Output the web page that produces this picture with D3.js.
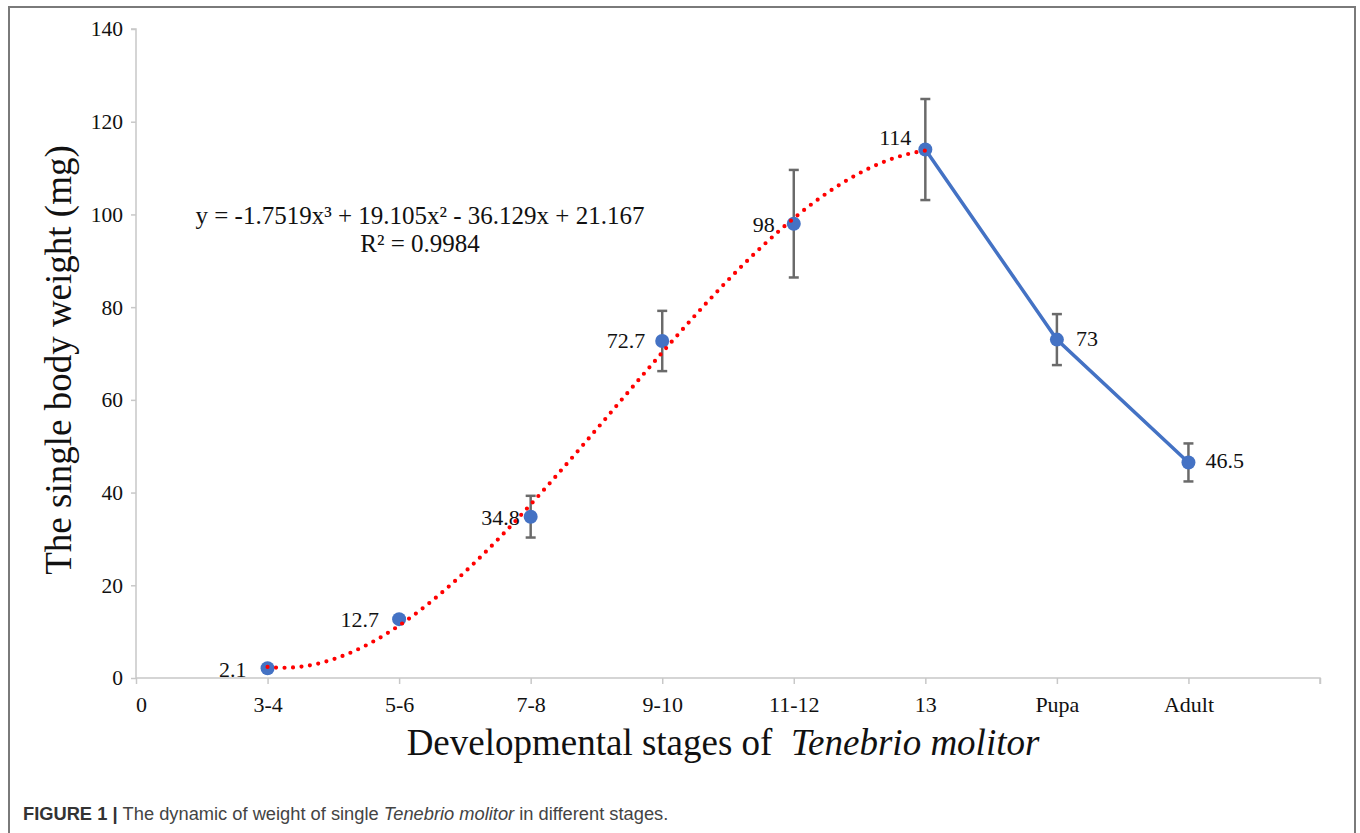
<!DOCTYPE html>
<html>
<head>
<meta charset="utf-8">
<script src="https://cdn.jsdelivr.net/npm/d3@7"></script>
<style>
  html, body { margin: 0; padding: 0; background: #fff; }
  svg { display: block; }
</style>
</head>
<body>
<svg id="chart" width="1360" height="833"></svg>
<script>
const categories = ["3-4", "5-6", "7-8", "9-10", "11-12", "13", "Pupa", "Adult"];
const weights = [2.1, 12.7, 34.8, 72.7, 98, 114, 73, 46.5];
const errors = [0.4, 0.6, 4.5, 6.5, 11.6, 10.9, 5.5, 4.1];
const valueLabels = ["2.1", "12.7", "34.8", "72.7", "98", "114", "73", "46.5"];
const yTicks = [0, 20, 40, 60, 80, 100, 120, 140];
// trendline coefficients (x^3, x^2, x, const), x = stage index 1..6
const trendCoef = [-1.7519, 19.105, -36.129, 21.167];
const trendRange = [1, 6];
const equationText = "y = -1.7519x³ + 19.105x² - 36.129x + 21.167";
const r2Text = "R² = 0.9984";

const svg = d3.select("#chart");
const serif = "'Liberation Serif', 'Times New Roman', serif";

// frame
svg.append("path")
  .attr("d", "M9,840 V7 H1355 V840")
  .attr("fill", "none").attr("stroke", "#7a7a7a").attr("stroke-width", 2);

const x = d3.scaleLinear().domain([0, 9]).range([136, 1320]);
const y = d3.scaleLinear().domain([0, 140]).range([678, 29]);

// y axis
const yAxis = svg.append("g").attr("transform", "translate(136,0)")
  .call(d3.axisLeft(y).tickValues(yTicks).tickSize(5).tickPadding(8));
yAxis.select(".domain").attr("stroke", "#c8c8c8").attr("stroke-width", 1.5).attr("d", `M-5,${y(140)}H0V${y(0)}`);
yAxis.selectAll(".tick line").attr("stroke", "#c8c8c8").attr("stroke-width", 1.5);
yAxis.selectAll(".tick text").attr("font-family", serif).attr("font-size", 21.5).attr("fill", "#111");

// x axis
const xAxis = svg.append("g").attr("transform", `translate(0,${y(0)})`)
  .call(d3.axisBottom(x).tickValues(d3.range(0, 10)).tickSize(6).tickPadding(12)
    .tickFormat(i => i === 0 ? "0" : (i <= categories.length ? categories[i - 1] : "")));
xAxis.select(".domain").attr("stroke", "#c8c8c8").attr("stroke-width", 1.5).attr("d", `M${x(0)},0H${x(9)}V6`);
xAxis.selectAll(".tick line").attr("stroke", "#c8c8c8").attr("stroke-width", 1.5);
xAxis.selectAll(".tick text").attr("font-family", serif).attr("font-size", 22).attr("fill", "#111");
xAxis.selectAll(".tick").filter(d => d === 0).select("text").attr("dx", 5);

// error bars
const eb = svg.append("g");
weights.forEach((v, i) => {
  const cx = x(i + 1);
  const t = y(v + errors[i]), b = y(v - errors[i]);
  eb.append("line").attr("x1", cx).attr("x2", cx).attr("y1", t).attr("y2", b)
    .attr("stroke", "#6a6a6a").attr("stroke-width", 2.5);
  [t, b].forEach(yy => eb.append("line").attr("x1", cx - 5).attr("x2", cx + 5).attr("y1", yy).attr("y2", yy)
    .attr("stroke", "#6a6a6a").attr("stroke-width", 2.5));
});

// solid blue line from 13 to Adult
const lineIdx = [5, 6, 7];
svg.append("path")
  .datum(lineIdx)
  .attr("fill", "none").attr("stroke", "#4472C4").attr("stroke-width", 3.5)
  .attr("d", d3.line().x(i => x(i + 1)).y(i => y(weights[i])));

// markers
svg.append("g").selectAll("circle").data(weights).join("circle")
  .attr("cx", (d, i) => x(i + 1)).attr("cy", d => y(d)).attr("r", 7)
  .attr("fill", "#4472C4");

// trendline (from displayed equation)
const poly = t => ((trendCoef[0] * t + trendCoef[1]) * t + trendCoef[2]) * t + trendCoef[3];
const tPts = d3.range(trendRange[0], trendRange[1] + 0.001, 0.02);
svg.append("path")
  .datum(tPts)
  .attr("fill", "none").attr("stroke", "#ff0000").attr("stroke-width", 4.2)
  .attr("stroke-linecap", "round").attr("stroke-dasharray", "0 8.5")
  .attr("d", d3.line().x(t => x(t)).y(t => y(poly(t))));

// data labels: [dx, dy, anchor]
const labelOffsets = [
  [-21, 9, "end"], [-20, 8, "end"], [-11, 8, "end"], [-17, 7, "end"],
  [-19, 8, "end"], [-14, -5, "end"], [19, 6, "start"], [17, 6, "start"]
];
weights.forEach((v, i) => {
  const cx = x(i + 1), cy = y(v);
  const [dx, dy, anchor] = labelOffsets[i];
  svg.append("text").attr("x", cx + dx).attr("y", cy + dy).attr("text-anchor", anchor)
    .attr("font-family", serif).attr("font-size", 22).attr("fill", "#111")
    .text(valueLabels[i]);
});

// equation
svg.append("text").attr("x", 420).attr("y", 224).attr("text-anchor", "middle")
  .attr("font-family", serif).attr("font-size", 25).attr("fill", "#111").text(equationText);
svg.append("text").attr("x", 420).attr("y", 252).attr("text-anchor", "middle")
  .attr("font-family", serif).attr("font-size", 25).attr("fill", "#111").text(r2Text);

// axis titles
svg.append("text")
  .attr("transform", "translate(71,360) rotate(-90)")
  .attr("text-anchor", "middle")
  .attr("font-family", serif).attr("font-size", 37).attr("fill", "#111")
  .text("The single body weight (mg)");

const xt = svg.append("text").attr("x", 723).attr("y", 755).attr("text-anchor", "middle")
  .attr("font-family", serif).attr("font-size", 37).attr("fill", "#111");
xt.append("tspan").text("Developmental stages of\u00A0 ");
xt.append("tspan").attr("font-style", "italic").text("Tenebrio molitor");

// caption
const cap = svg.append("text").attr("x", 23).attr("y", 820)
  .attr("font-family", "'Liberation Sans', Arial, sans-serif").attr("font-size", 18.3).attr("fill", "#444");
cap.append("tspan").attr("font-weight", "bold").attr("fill", "#333").text("FIGURE 1 | ");
cap.append("tspan").text("The dynamic of weight of single ");
cap.append("tspan").attr("font-style", "italic").text("Tenebrio molitor");
cap.append("tspan").text(" in different stages.");
</script>
</body>
</html>
